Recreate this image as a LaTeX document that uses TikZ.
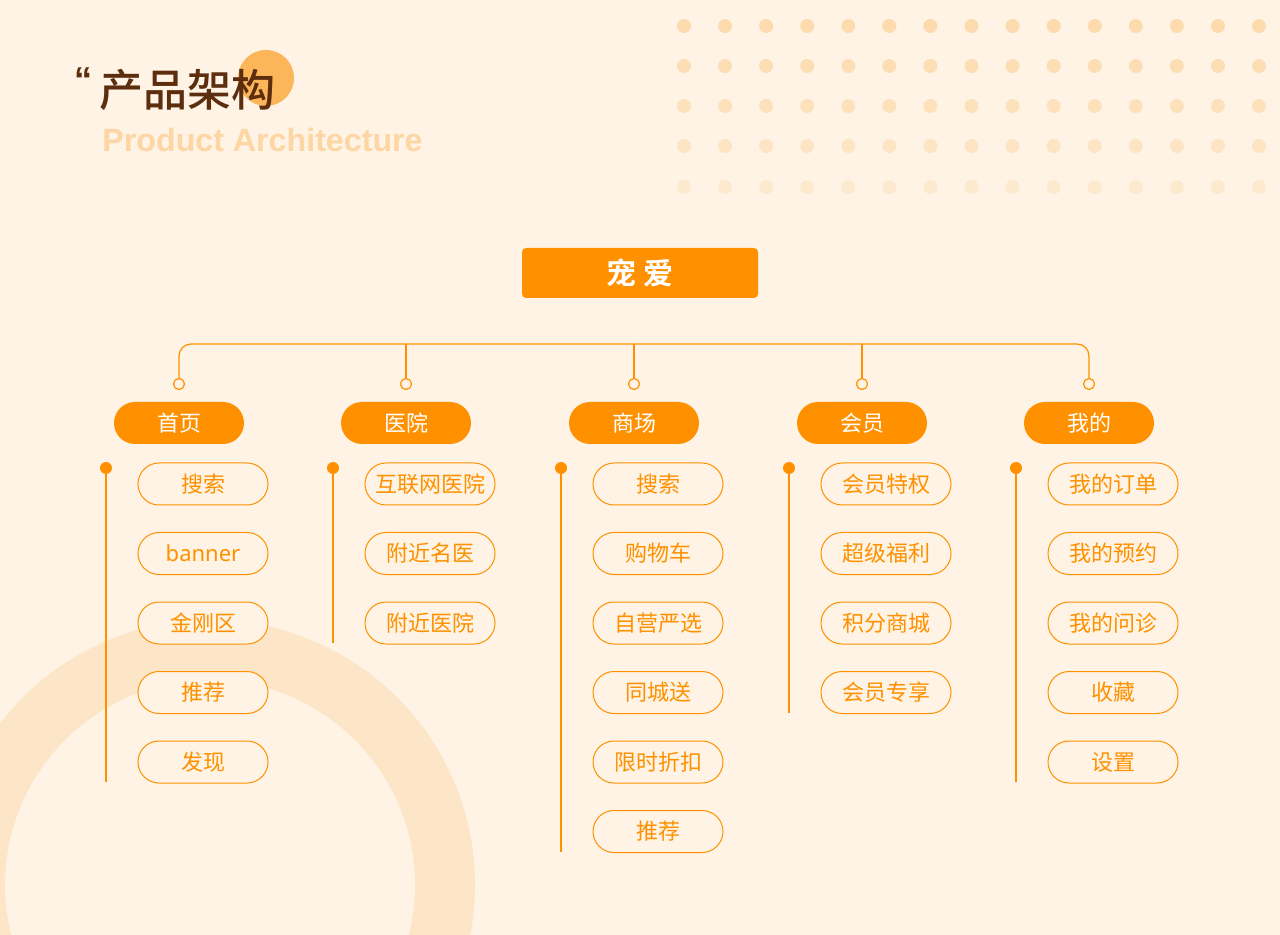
\documentclass[tikz,border=0pt]{standalone}
\usepackage{fontspec}
\setmainfont{Noto Sans}
\newfontfamily\cjk{Noto Sans CJK SC}
\newfontfamily\cjkm{Noto Sans CJK SC Medium}
\newfontfamily\cjkb{Noto Sans CJK SC Bold}
\newfontfamily\lib{Liberation Sans}
\definecolor{bg}{HTML}{FEF3E4}
\definecolor{org}{HTML}{FF9100}
\definecolor{ring}{HTML}{FDE6C8}
\definecolor{brn}{HTML}{5C2E0E}
\definecolor{sun}{HTML}{FDB55A}
\definecolor{eng}{HTML}{FDD6A4}
\definecolor{dot}{HTML}{FDDBAE}
\tikzset{
 cat/.style={fill=org,rounded corners=10.5pt,minimum width=65pt,minimum height=21pt,inner sep=0pt,text=white,font=\cjk\fontsize{11}{11}\selectfont},
 item/.style={draw=org,line width=0.5pt,fill=bg,rounded corners=10.5pt,minimum width=65pt,minimum height=21pt,inner sep=0pt,text=org,font=\cjk\fontsize{11}{11}\selectfont},
 ln/.style={draw=org,line width=0.6pt},
}
\begin{document}
\begin{tikzpicture}[x=0.5pt,y=-0.5pt]
\fill[bg] (0,0) rectangle (1280,935);
\useasboundingbox (0,0) rectangle (1280,935);
\begin{scope}
\clip (0,0) rectangle (1280,935);
\draw[ring,line width=30pt] (210,885) circle[radius=235];
\end{scope}
% dots
\foreach \r/\op in {26/1,66/0.9,106/0.75,146/0.6,187/0.4}{
 \foreach \i in {0,...,14}{
  \fill[dot,opacity=\op] ({684+41.07*\i},\r) circle[radius=7];
 }}
% title
\fill[sun] (266,78) circle[radius=28];
\node[anchor=west,inner sep=0pt,text=brn,font=\cjkm\fontsize{22}{22}\selectfont] (t1) at (99,90) {产品架构};
\node[anchor=west,inner sep=0pt,text=brn,font=\lib\bfseries\fontsize{18}{18}\selectfont] (q) at (74,80) {“};
\node[anchor=west,inner sep=0pt,text=eng,font=\lib\bfseries\fontsize{16.1}{16.1}\selectfont] (t2) at (102,140) {Product Architecture};
% root
\node[fill=org,rounded corners=2pt,minimum width=118pt,minimum height=25pt,inner sep=0pt,text=white,font=\cjkb\fontsize{15}{15}\selectfont] (root) at (640,273) {宠\hspace{4pt}爱};
% bus
\draw[ln,rounded corners=6pt] (179,378) -- (179,344) -- (1089,344) -- (1089,378);
\foreach \x/\n/\lab in {179/a/首页,406/b/医院,634/c/商场,862/d/会员,1089/e/我的}{
 \node[draw=org,line width=0.6pt,fill=bg,circle,minimum size=5.5pt,inner sep=0pt] (o\n) at (\x,384) {};
 \node[cat] (c\n) at (\x,423) {\lab};
}
\foreach \x/\n in {406/b,634/c,862/d}{
 \coordinate (h\n) at (\x,344);
 \draw[ln] (h\n) -- (o\n);
}
% items
\newcommand\col[4]{% name, x, list, bottom
 \fill[org] ({#2-73},468) circle[radius=6];
 \coordinate (s#1) at ({#2-73},468);
 \coordinate (e#1) at ({#2-73},#4);
 \draw[ln] (s#1) -- (e#1);
 \foreach \t [count=\k] in {#3}{
  \node[item] (#1\k) at ({#2+24},{484+69.5*(\k-1)}) {\t};
 }}
\col{a}{179}{搜索,{\fontspec{Noto Sans}banner},金刚区,推荐,发现}{782}
\col{b}{406}{互联网医院,附近名医,附近医院}{643}
\col{c}{634}{搜索,购物车,自营严选,同城送,限时折扣,推荐}{852}
\col{d}{862}{会员特权,超级福利,积分商城,会员专享}{713}
\col{e}{1089}{我的订单,我的预约,我的问诊,收藏,设置}{782}
\end{tikzpicture}
\end{document}
